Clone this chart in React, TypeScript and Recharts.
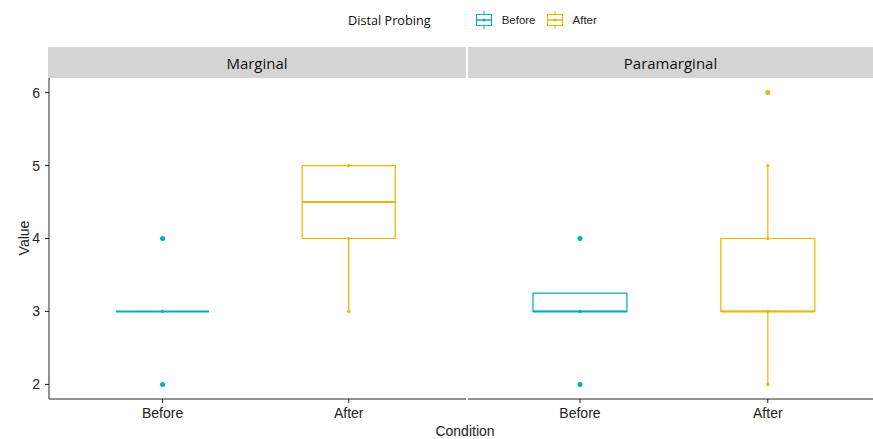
import React from 'react';
import {
  ComposedChart,
  XAxis,
  YAxis,
  Scatter,
  ReferenceArea,
  ReferenceLine,
} from 'recharts';

const CONDITIONS = ['Before', 'After'];
const FACETS = ['Marginal', 'Paramarginal'];
const Y_TICKS = [2, 3, 4, 5, 6];

// box stats in CONDITIONS order: [lower whisker, Q1, median, Q3, upper whisker]
const MARGINAL_BOXES = [
  [3, 3, 3, 3, 3],
  [3, 4, 4.5, 5, 5],
];
const PARAMARGINAL_BOXES = [
  [3, 3, 3, 3.25, 3.25],
  [2, 3, 3, 4, 5],
];

// observed values (small dots) per condition
const MARGINAL_POINTS = [
  [2, 3, 4],
  [3, 4, 5],
];
const PARAMARGINAL_POINTS = [
  [2, 3, 4],
  [2, 3, 4, 5, 6],
];

// outliers (large dots) per condition
const MARGINAL_OUTLIERS = [[2, 4], []];
const PARAMARGINAL_OUTLIERS = [[2, 4], [6]];

const COLORS = ['#00AFBB', '#E7B800'];
const AXIS_COLOR = '#222';
const TICK_FONT = { fontFamily: 'Liberation Sans, Arial, sans-serif', fontSize: 14, fill: '#222' };
const BOX_HALF = 0.25;

type Pt = { x: number; y: number; cond: number };

const toPoints = (groups: number[][]): Pt[] =>
  groups.flatMap((vals, i) => vals.map((v) => ({ x: i + 1, y: v, cond: i })));

const dot = (r: number) => (props: any) => {
  const { cx, cy, payload } = props;
  if (cx == null || cy == null) return <g />;
  return <circle cx={cx} cy={cy} r={r} fill={COLORS[payload.cond]} />;
};

interface PanelProps {
  boxes: number[][];
  points: number[][];
  outliers: number[][];
  width: number;
  xDomain: [number, number];
  showY: boolean;
}

const Panel: React.FC<PanelProps> = ({ boxes, points, outliers, width, xDomain, showY }) => {
  const pts = toPoints(points);
  const outs = toPoints(outliers);
  return (
    <ComposedChart
      width={width}
      height={439}
      margin={{ top: 78, right: 0, bottom: 0, left: 0 }}
    >
      <XAxis
        type="number"
        dataKey="x"
        domain={xDomain}
        allowDataOverflow
        ticks={[1, 2]}
        tickFormatter={(v: number) => CONDITIONS[v - 1]}
        height={40}
        tickSize={4}
        tickMargin={5}
        tick={TICK_FONT}
        axisLine={{ stroke: AXIS_COLOR }}
        tickLine={{ stroke: AXIS_COLOR }}
      />
      <YAxis
        type="number"
        dataKey="y"
        domain={[1.8, 6.2]}
        allowDataOverflow
        ticks={Y_TICKS}
        hide={!showY}
        width={49}
        tickSize={4}
        tickMargin={5}
        tick={TICK_FONT}
        axisLine={{ stroke: AXIS_COLOR }}
        tickLine={{ stroke: AXIS_COLOR }}
      />
      {boxes.map(([lo, q1, med, q3, hi], i) => {
        const x = i + 1;
        const c = COLORS[i];
        return (
          <React.Fragment key={`box-${i}`}>
            {q3 > q1 && (
              <ReferenceArea
                x1={x - BOX_HALF}
                x2={x + BOX_HALF}
                y1={q1}
                y2={q3}
                fill="none"
                fillOpacity={0}
                stroke={c}
                strokeWidth={1.2}
              />
            )}
            {lo < q1 && (
              <ReferenceLine
                segment={[{ x, y: lo }, { x, y: q1 }]}
                stroke={c}
                strokeWidth={1.2}
              />
            )}
            {hi > q3 && (
              <ReferenceLine
                segment={[{ x, y: q3 }, { x, y: hi }]}
                stroke={c}
                strokeWidth={1.2}
              />
            )}
            <ReferenceLine
              segment={[{ x: x - BOX_HALF, y: med }, { x: x + BOX_HALF, y: med }]}
              stroke={c}
              strokeWidth={2}
            />
          </React.Fragment>
        );
      })}
      <Scatter data={pts} shape={dot(1.6)} isAnimationActive={false} />
      <Scatter data={outs} shape={dot(2.5)} isAnimationActive={false} />
    </ComposedChart>
  );
};

const LegendKey: React.FC<{ color: string }> = ({ color }) => (
  <svg width={18} height={20} style={{ display: 'block' }}>
    <line x1={9} y1={1} x2={9} y2={19} stroke={color} strokeWidth={1} />
    <rect x={1.5} y={4.5} width={15} height={11} fill="white" stroke={color} strokeWidth={1} />
    <line x1={1.5} y1={10} x2={16.5} y2={10} stroke={color} strokeWidth={1.5} />
    <circle cx={9} cy={10} r={1.6} fill={color} />
  </svg>
);

const stripStyle: React.CSSProperties = {
  position: 'absolute',
  top: 47,
  height: 31,
  background: '#D4D4D4',
  display: 'flex',
  alignItems: 'center',
  justifyContent: 'center',
  fontFamily: '"Open Sans", sans-serif',
  fontSize: 15,
  color: '#111',
};

const App: React.FC = () => {
  return (
    <div
      style={{
        position: 'absolute',
        left: 0,
        top: 0,
        width: 873,
        height: 439,
        background: 'white',
        overflow: 'hidden',
      }}
    >
      {/* legend */}
      <div
        style={{
          position: 'absolute',
          top: 10,
          left: 348,
          height: 20,
          display: 'flex',
          alignItems: 'center',
        }}
      >
        <span style={{ fontFamily: '"Open Sans", sans-serif', fontSize: 12.7, color: '#111' }}>
          Distal Probing
        </span>
        {CONDITIONS.map((c, i) => (
          <React.Fragment key={c}>
            <span style={{ marginLeft: i === 0 ? 44 : 10 }}>
              <LegendKey color={COLORS[i]} />
            </span>
            <span
              style={{
                marginLeft: 9,
                fontFamily: 'Liberation Sans, Arial, sans-serif',
                fontSize: 11.5,
                color: '#222',
              }}
            >
              {c}
            </span>
          </React.Fragment>
        ))}
      </div>

      {/* facet strips */}
      <div style={{ ...stripStyle, left: 48, width: 418 }}>{FACETS[0]}</div>
      <div style={{ ...stripStyle, left: 468, width: 405 }}>{FACETS[1]}</div>

      {/* panels */}
      <div style={{ position: 'absolute', left: 0, top: 0 }}>
        <Panel
          boxes={MARGINAL_BOXES}
          points={MARGINAL_POINTS}
          outliers={MARGINAL_OUTLIERS}
          width={466}
          xDomain={[0.39, 2.63]}
          showY
        />
      </div>
      <div style={{ position: 'absolute', left: 468, top: 0 }}>
        <Panel
          boxes={PARAMARGINAL_BOXES}
          points={PARAMARGINAL_POINTS}
          outliers={PARAMARGINAL_OUTLIERS}
          width={405}
          xDomain={[0.404, 2.56]}
          showY={false}
        />
      </div>

      {/* axis titles */}
      <div
        style={{
          position: 'absolute',
          left: 465,
          top: 423,
          transform: 'translateX(-50%)',
          fontFamily: 'Liberation Sans, Arial, sans-serif',
          fontSize: 14,
          lineHeight: '16px',
          color: '#222',
          whiteSpace: 'nowrap',
        }}
      >
        Condition
      </div>
      <div
        style={{
          position: 'absolute',
          left: 24,
          top: 238,
          transform: 'translate(-50%, -50%) rotate(-90deg)',
          fontFamily: 'Liberation Sans, Arial, sans-serif',
          fontSize: 14,
          color: '#222',
          whiteSpace: 'nowrap',
        }}
      >
        Value
      </div>
    </div>
  );
};

export default App;
